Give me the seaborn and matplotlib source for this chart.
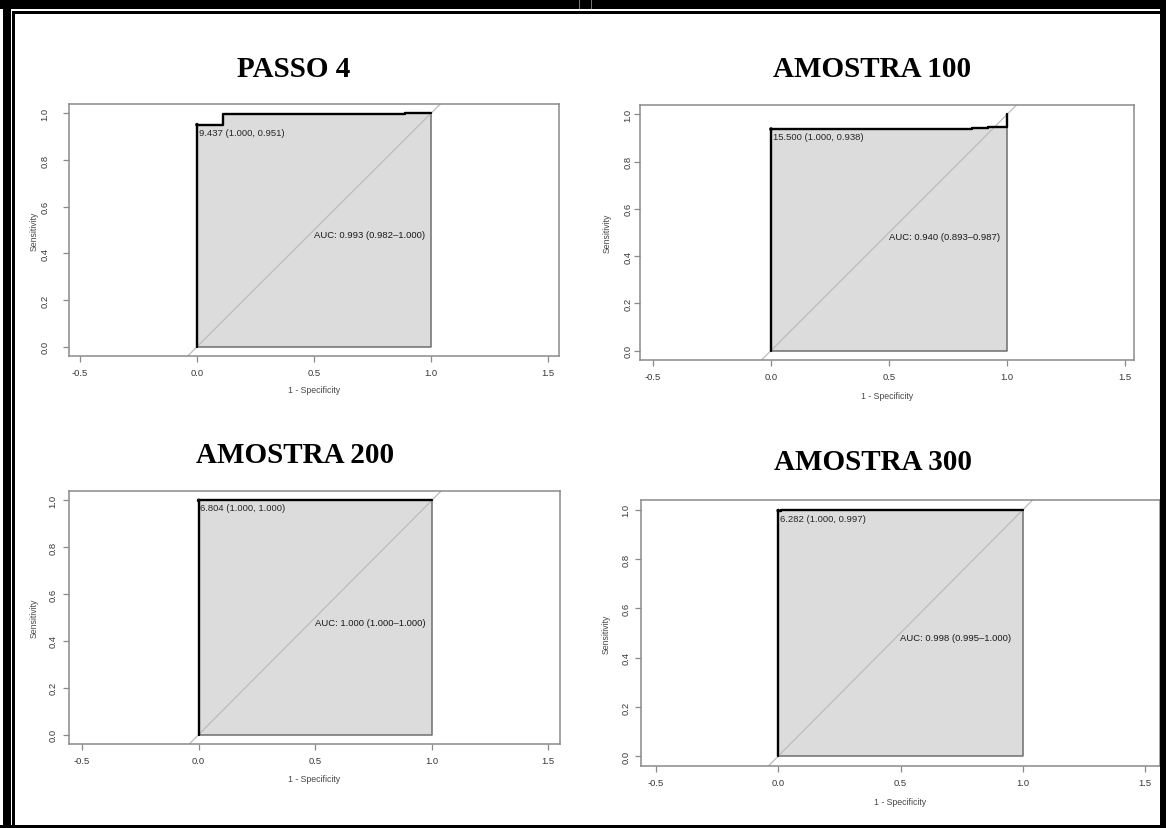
import matplotlib
matplotlib.use('Agg')
import matplotlib.pyplot as plt
import seaborn as sns
from matplotlib.patches import Rectangle

sns.set_style('white')
plt.rcParams['font.family'] = ['Liberation Sans', 'DejaVu Sans']

W, H = 1166, 829

titulos = ['PASSO 4', 'AMOSTRA 100', 'AMOSTRA 200', 'AMOSTRA 300']

# curvas ROC (x = 1 - especificidade, y = sensibilidade)
fpr_passo4 = [0.0, 0.0, 0.11, 0.11, 0.89, 0.89, 1.0]
tpr_passo4 = [0.0, 0.951, 0.951, 0.997, 0.997, 1.0, 1.0]
fpr_am100 = [0.0, 0.0, 0.75, 0.75, 0.85, 0.85, 0.92, 0.92, 1.0, 1.0]
tpr_am100 = [0.0, 0.938, 0.938, 0.940, 0.940, 0.943, 0.943, 0.946, 0.946, 1.0]
fpr_am200 = [0.0, 0.0, 1.0]
tpr_am200 = [0.0, 1.0, 1.0]
fpr_am300 = [0.0, 0.0, 0.01, 0.01, 1.0]
tpr_am300 = [0.0, 0.997, 0.997, 1.0, 1.0]

curvas = [(fpr_passo4, tpr_passo4), (fpr_am100, tpr_am100),
          (fpr_am200, tpr_am200), (fpr_am300, tpr_am300)]

# melhor limiar e AUC
limiar_x = [0.0, 0.0, 0.0, 0.0]
limiar_y = [0.951, 0.938, 1.000, 0.997]
limiar_txt = ['9.437 (1.000, 0.951)', '15.500 (1.000, 0.938)',
              '6.804 (1.000, 1.000)', '6.282 (1.000, 0.997)']
auc_txt = ['AUC: 0.993 (0.982\u20131.000)', 'AUC: 0.940 (0.893\u20130.987)',
           'AUC: 1.000 (1.000\u20131.000)', 'AUC: 0.998 (0.995\u20131.000)']

xticks = [-0.5, 0.0, 0.5, 1.0, 1.5]
yticks = [0.0, 0.2, 0.4, 0.6, 0.8, 1.0]

# layout em pixels: caixa (x0, y0, x1, y1), xlim, titulo (cx, baseline), pad y, ylabel dx, xlabel dy
layout = [
    ((69, 105, 559, 357), (-0.547, 1.547), (294, 77), 9.8, 34.5, 34),
    ((640, 106, 1134, 361), (-0.555, 1.538), (872, 77), 1.1, 33, 36),
    ((69, 492, 560, 745), (-0.556, 1.55), (295, 463), 4.0, 35, 35),
    ((641, 501, 1160, 767), (-0.561, 1.561), (873, 470), 3.3, 35, 36),
]

fig = plt.figure(figsize=(W / 100, H / 100), dpi=100)
fig.patch.set_facecolor('white')

cinza = '#8a8a8a'
for i in range(4):
    (x0, y0, x1, y1), xlim, (tx, ty), ypad, ylab_dx, xlab_dy = layout[i]
    ax = fig.add_axes([x0 / W, 1 - y1 / H, (x1 - x0) / W, (y1 - y0) / H])
    fpr, tpr = curvas[i]

    ax.fill_between(fpr, tpr, 0, facecolor='#dcdcdc', edgecolor='#6e6e6e', lw=1.1, zorder=1)
    ax.axline((0, 0), (1, 1), color='#bcbcbc', lw=0.9, zorder=2)
    sns.lineplot(x=fpr, y=tpr, sort=False, estimator=None, color='black', lw=1.7, ax=ax, zorder=3)
    sns.scatterplot(x=[limiar_x[i]], y=[limiar_y[i]], color='black', s=7, edgecolor='none', ax=ax, zorder=4)
    ax.annotate(limiar_txt[i], (limiar_x[i], limiar_y[i]), xytext=(1.2, -2.2), textcoords='offset points',
                ha='left', va='top', fontsize=6.8, color='#262626', zorder=5)
    ax.text(0.5, 0.5, auc_txt[i], ha='left', va='top', fontsize=6.8, color='#1a1a1a', zorder=5)

    ax.set_xlim(*xlim)
    ax.set_ylim(-0.04, 1.04)
    ax.set_xticks(xticks)
    ax.set_xticklabels(['%.1f' % v for v in xticks])
    ax.set_yticks(yticks)
    ax.set_yticklabels(['%.1f' % v for v in yticks], rotation=90, va='center')
    ax.tick_params(axis='both', direction='out', length=4.3, width=0.9, color=cinza,
                   labelsize=6.8, labelcolor='#383838', bottom=True, left=True)
    ax.tick_params(axis='x', pad=4)
    ax.tick_params(axis='y', pad=ypad)
    for s in ax.spines.values():
        s.set_color(cinza)
        s.set_linewidth(1.1)

    ax.set_xlabel('1 - Specificity', fontsize=6.3, color='#484848')
    ax.set_ylabel('Sensitivity', fontsize=6.3, color='#484848')
    ax.xaxis.label.set_va('center')
    ax.yaxis.label.set_va('center')
    ax.xaxis.set_label_coords(0.5, -xlab_dy / (y1 - y0))
    ax.yaxis.set_label_coords(-ylab_dx / (x1 - x0), 0.5)

    fig.text(tx / W, 1 - ty / H, titulos[i], ha='center', va='baseline', color='black',
             fontsize=21, fontweight='bold', family=['Liberation Serif', 'DejaVu Serif'])

# moldura preta da figura
def faixa(x, y, w, h, cor='black'):
    fig.add_artist(Rectangle((x / W, 1 - (y + h) / H), w / W, h / H, transform=fig.transFigure,
                             facecolor=cor, edgecolor='none', zorder=20))

faixa(0, 0, W, 10)
faixa(3, 0, 8, H)
faixa(1160, 0, 6, H)
faixa(0, 826, W, 3)
faixa(12, 12, 1148, 2.5)
faixa(12, 12, 2.5, 814)
faixa(579, 0, 1, 10, '#777777')
faixa(591, 0, 1, 10, '#777777')

fig.savefig('out.png', dpi=100)
